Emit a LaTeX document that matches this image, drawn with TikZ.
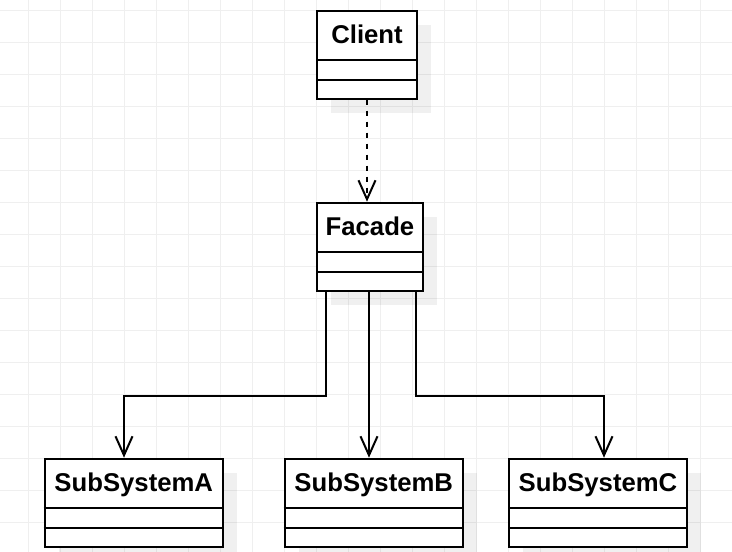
\documentclass[tikz,border=0pt]{standalone}
\usepackage{fontspec}
\setmainfont{Liberation Sans}
\usetikzlibrary{arrows.meta,calc,shadows}
\definecolor{gridc}{RGB}{239,239,239}
\begin{document}
\begin{tikzpicture}[x=1pt,y=-1pt,
  umlbox/.style={draw=black, line width=2pt, fill=white, anchor=north west,
    minimum height=88pt, inner sep=0pt,
    general shadow={fill=black, opacity=0.06, shadow xshift=14pt, shadow yshift=-14pt}},
  umltitle/.style={anchor=base, inner sep=0pt, font=\bfseries\fontsize{25.7}{30}\selectfont},
  divider/.style={line width=2pt},
  assoc/.style={line width=2pt, -{Straight Barb[length=19pt,width=17pt]}},
  dep/.style={line width=2pt, dash pattern=on 5.5pt off 5.5pt, -{Straight Barb[length=19pt,width=17pt]}},
  gridline/.style={draw=gridc, line width=1pt}
]
\useasboundingbox (0,0) rectangle (732,552);
\fill[white] (0,0) rectangle (732,552);
% grid
\foreach \x in {28.3,60.3,...,732} \draw[gridline] (\x,0) -- (\x,552);
\foreach \y in {10.3,42.3,...,552} \draw[gridline] (0,\y) -- (732,\y);

% classes
\node[umlbox, minimum width=100pt] (client) at (316,9.7) {};
\node[umlbox, minimum width=106pt] (facade) at (316,201.7) {};
\node[umlbox, minimum width=178.5pt] (subA) at (43.5,457.7) {};
\node[umlbox, minimum width=178.5pt] (subB) at (283.5,457.7) {};
\node[umlbox, minimum width=178pt] (subC) at (508,457.7) {};

\foreach \n/\t in {client/Client, facade/Facade, subA/SubSystemA, subB/SubSystemB, subC/SubSystemC} {
  \node[umltitle] (\n T) at ($(\n.north)+(0,34)$) {\t};
  \draw[divider] ($(\n.north west)+(0,50)$) -- ($(\n.north east)+(0,50)$);
  \draw[divider] ($(\n.north west)+(0,70)$) -- ($(\n.north east)+(0,70)$);
}

% connectors
\draw[dep] (client.south) -- (client.south |- facade.north);

\coordinate (fA) at ($(facade.south west)+(10,0)$);
\coordinate (fB) at ($(facade.south)+(-1,0)$);
\coordinate (fC) at ($(facade.south east)+(-8,0)$);
\coordinate (tA) at ($(subA.north west)+(80.5,0)$);
\coordinate (tC) at ($(subC.north west)+(96,0)$);

\draw[assoc] (fA) -- ($(fA)+(0,104)$) -| (tA);
\draw[assoc] (fB) -- (fB |- subB.north);
\draw[assoc] (fC) -- ($(fC)+(0,104)$) -| (tC);
\end{tikzpicture}
\end{document}
